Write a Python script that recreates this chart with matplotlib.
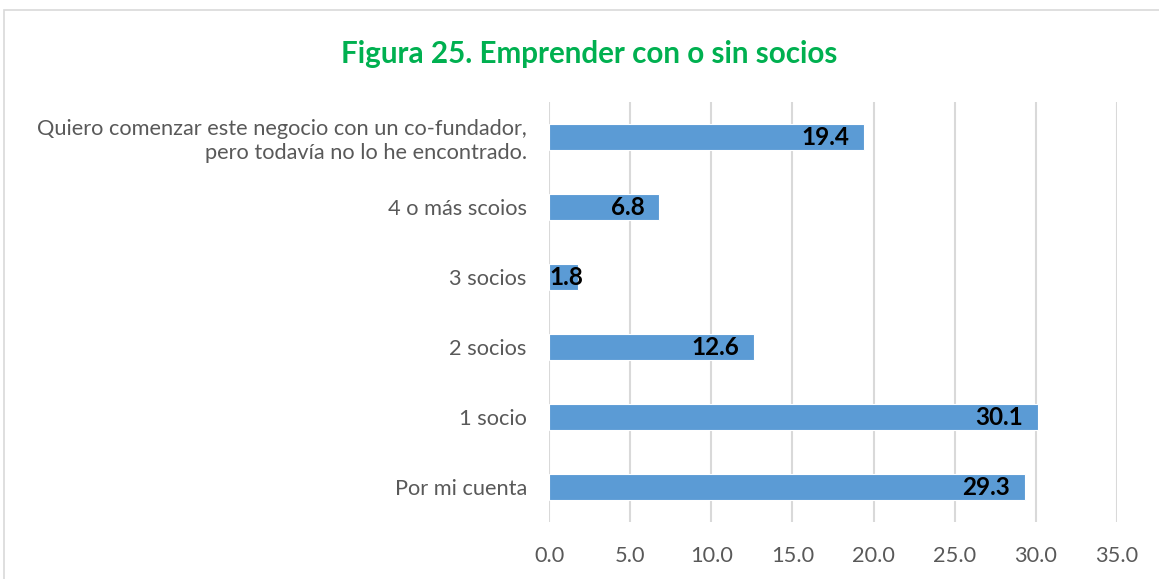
import matplotlib.pyplot as plt
from matplotlib.patches import Rectangle

categorias = [
    "Por mi cuenta",
    "1 socio",
    "2 socios",
    "3 socios",
    "4 o más scoios",
    "Quiero comenzar este negocio con un co-fundador,\npero todavía no lo he encontrado.",
]
valores = [29.3, 30.1, 12.6, 1.8, 6.8, 19.4]
ticks_x = [0, 5, 10, 15, 20, 25, 30, 35]

plt.rcParams['font.family'] = ['Lato', 'DejaVu Sans']

fig = plt.figure(figsize=(11.59, 5.79), dpi=100)
ax = fig.add_axes([0.4737, 0.0984, 0.4901, 0.7254])

# marco del gráfico
fig.patches.append(Rectangle((4 / 1159, -0.05), 1.1, 1 - 10 / 579 + 0.05,
                             transform=fig.transFigure, fill=False,
                             edgecolor='#D9D9D9', linewidth=1.2))

y = range(len(categorias))
ax.barh(y, valores, height=0.37, color='#5B9BD5', edgecolor='white', linewidth=0.8, zorder=3)

for i, v in enumerate(valores):
    if v < 3:
        ax.text(0.05, i, f"{v:.1f}", ha='left', va='center', fontsize=17.5,
                fontweight='bold', color='black', zorder=4)
    else:
        ax.text(v - 0.9, i, f"{v:.1f}", ha='right', va='center', fontsize=17.5,
                fontweight='bold', color='black', zorder=4)

ax.set_xlim(0, 35)
ax.set_ylim(-0.5, len(categorias) - 0.5)
ax.set_xticks(ticks_x)
ax.set_xticklabels([f"{t:.1f}" for t in ticks_x])
ax.set_yticks(list(y))
ax.set_yticklabels(categorias, ha='right', multialignment='right', linespacing=1.25)
ax.tick_params(axis='both', length=0, labelsize=15.7, colors='#595959')
ax.tick_params(axis='y', pad=16)
ax.tick_params(axis='x', pad=17)
ax.grid(axis='x', color='#D9D9D9', linewidth=1.5, zorder=0)
for s in ax.spines.values():
    s.set_visible(False)

fig.text(0.508, 0.907, "Figura 25. Emprender con o sin socios", ha='center', va='center',
         fontsize=21.3, fontweight='bold', color='#00B050')

fig.savefig("out.png", dpi=100)
